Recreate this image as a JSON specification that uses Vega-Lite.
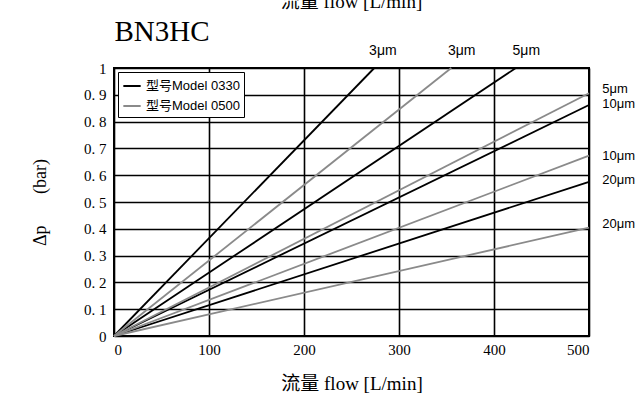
{
  "$schema": "https://vega.github.io/schema/vega-lite/v6.json",
  "width": 475,
  "height": 268,
  "autosize": {"type": "none"},
  "padding": {"left": 114, "top": 68, "right": 53, "bottom": 68},
  "background": "white",
  "title": {
    "text": "流量 flow [L/min]",
    "anchor": "middle",
    "fontSize": 19,
    "fontWeight": "normal",
    "font": "Liberation Serif, Noto Sans CJK SC",
    "color": "black",
    "offset": 5
  },
  "config": {
    "view": {"stroke": "black", "strokeWidth": 2},
    "font": "Liberation Serif, Noto Sans CJK SC"
  },
  "datasets": {
    "lines": [
      {"model": "型号Model 0330", "series": "0330 3μm", "flow": 0, "dp": 0},
      {"model": "型号Model 0330", "series": "0330 3μm", "flow": 274, "dp": 1},
      {"model": "型号Model 0330", "series": "0330 5μm", "flow": 0, "dp": 0},
      {"model": "型号Model 0330", "series": "0330 5μm", "flow": 423, "dp": 1},
      {"model": "型号Model 0330", "series": "0330 10μm", "flow": 0, "dp": 0},
      {"model": "型号Model 0330", "series": "0330 10μm", "flow": 500, "dp": 0.862},
      {"model": "型号Model 0330", "series": "0330 20μm", "flow": 0, "dp": 0},
      {"model": "型号Model 0330", "series": "0330 20μm", "flow": 500, "dp": 0.575},
      {"model": "型号Model 0500", "series": "0500 3μm", "flow": 0, "dp": 0},
      {"model": "型号Model 0500", "series": "0500 3μm", "flow": 355, "dp": 1},
      {"model": "型号Model 0500", "series": "0500 5μm", "flow": 0, "dp": 0},
      {"model": "型号Model 0500", "series": "0500 5μm", "flow": 500, "dp": 0.906},
      {"model": "型号Model 0500", "series": "0500 10μm", "flow": 0, "dp": 0},
      {"model": "型号Model 0500", "series": "0500 10μm", "flow": 500, "dp": 0.673},
      {"model": "型号Model 0500", "series": "0500 20μm", "flow": 0, "dp": 0},
      {"model": "型号Model 0500", "series": "0500 20μm", "flow": 500, "dp": 0.404}
    ],
    "topLabels": [
      {"flow": 283, "dp": 1.063, "label": "3μm"},
      {"flow": 366, "dp": 1.063, "label": "3μm"},
      {"flow": 434, "dp": 1.063, "label": "5μm"}
    ],
    "rightLabels": [
      {"flow": 514, "dp": 0.92, "label": "5μm"},
      {"flow": 514, "dp": 0.865, "label": "10μm"},
      {"flow": 514, "dp": 0.673, "label": "10μm"},
      {"flow": 514, "dp": 0.583, "label": "20μm"},
      {"flow": 514, "dp": 0.418, "label": "20μm"}
    ]
  },
  "encoding": {
    "y": {
      "field": "dp",
      "type": "quantitative",
      "scale": {"domain": [0, 1], "nice": false},
      "axis": {
        "values": [0, 0.1, 0.2, 0.3, 0.4, 0.5, 0.6, 0.7, 0.8, 0.9, 1],
        "labelExpr": "datum.value == 0 ? '0' : (datum.value == 1 ? '1' : '0. ' + round(datum.value * 10))",
        "grid": true,
        "gridColor": "black",
        "gridWidth": 1.6,
        "gridOpacity": 1,
        "domain": false,
        "ticks": false,
        "labelPadding": 8,
        "labelFont": "Liberation Serif",
        "labelFontSize": 15,
        "labelColor": "black",
        "title": "Δp\u00a0\u00a0\u00a0\u00a0\u00a0\u00a0\u00a0(bar)",
        "titleFont": "Liberation Serif",
        "titleFontSize": 18,
        "titleFontWeight": "normal",
        "titleColor": "black",
        "titlePadding": 34
      }
    }
  },
  "layer": [
    {
      "data": {"name": "lines"},
      "mark": {"type": "line", "strokeWidth": 1.8},
      "encoding": {
        "x": {
          "field": "flow",
          "type": "quantitative",
          "scale": {"domain": [0, 500], "nice": false},
          "axis": {
            "orient": "bottom",
            "values": [0, 100, 200, 300, 400, 500],
            "format": "d",
            "grid": true,
            "gridColor": "black",
            "gridWidth": 1.6,
            "gridOpacity": 1,
            "domain": false,
            "ticks": false,
            "labelPadding": 6,
            "labelFont": "Liberation Serif",
            "labelFontSize": 15,
            "labelColor": "black",
            "title": "流量 flow [L/min]",
            "titleFont": "Liberation Serif, Noto Sans CJK SC",
            "titleFontSize": 19,
            "titleFontWeight": "normal",
            "titleColor": "black",
            "titlePadding": 17
          }
        },
        "color": {
          "field": "model",
          "type": "nominal",
          "scale": {"domain": ["型号Model 0330", "型号Model 0500"], "range": ["#000000", "#8a8a8a"]},
          "legend": {
            "title": null,
            "orient": "top-left",
            "offset": 4,
            "strokeColor": "black",
            "fillColor": "white",
            "padding": 4,
            "symbolType": "stroke",
            "symbolSize": 300,
            "symbolStrokeWidth": 2,
            "labelFont": "Liberation Sans Narrow, Liberation Sans, Noto Sans CJK SC",
            "labelFontSize": 13,
            "labelColor": "black",
            "labelOffset": 4,
            "rowPadding": 3
          }
        },
        "detail": {"field": "series"}
      }
    },
    {
      "data": {"name": "topLabels"},
      "mark": {"type": "text", "align": "center", "baseline": "middle", "fontSize": 14, "font": "Liberation Sans Narrow, Liberation Sans", "color": "black"},
      "encoding": {
        "x": {
          "field": "flow",
          "type": "quantitative",
          "axis": {
            "orient": "top",
            "labels": false,
            "ticks": false,
            "domain": false,
            "grid": false,
            "title": "BN3HC",
            "titleAnchor": "start",
            "titleFont": "Liberation Serif",
            "titleFontSize": 29,
            "titleFontWeight": "normal",
            "titleColor": "black",
            "titlePadding": 22
          }
        },
        "text": {"field": "label"}
      }
    },
    {
      "data": {"name": "rightLabels"},
      "mark": {"type": "text", "align": "left", "baseline": "middle", "fontSize": 13, "font": "Liberation Sans Narrow, Liberation Sans", "color": "black"},
      "encoding": {
        "x": {"field": "flow", "type": "quantitative", "axis": null},
        "text": {"field": "label"}
      }
    }
  ],
  "resolve": {"axis": {"x": "independent"}}
}
